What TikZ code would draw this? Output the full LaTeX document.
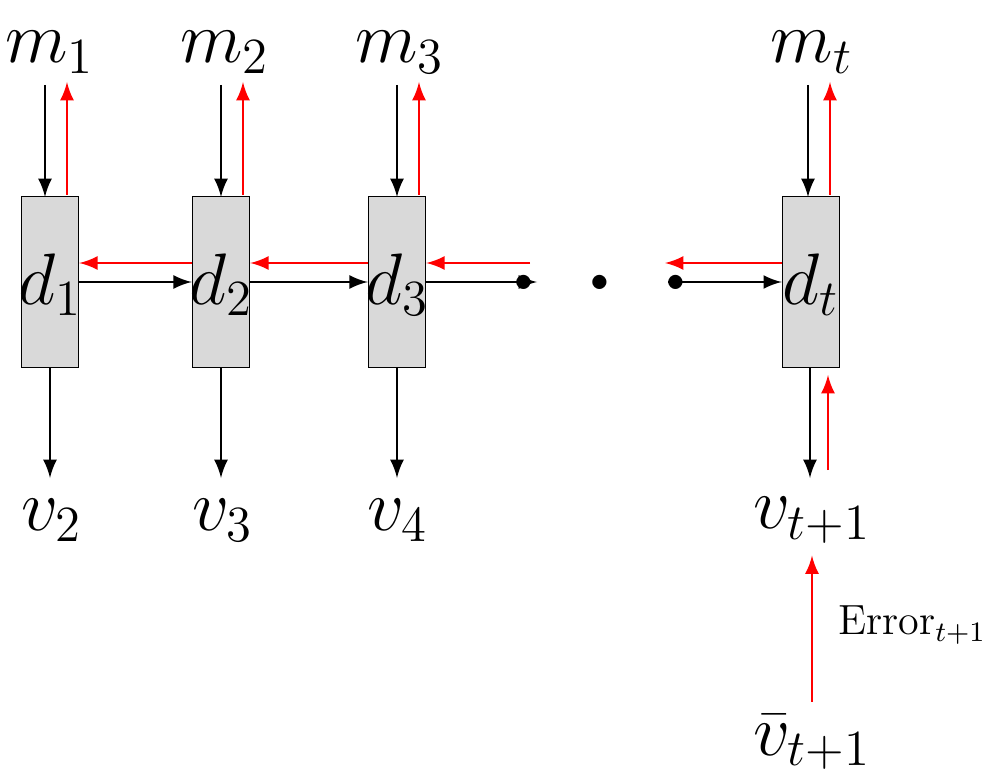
\documentclass[tikz,border=0pt]{standalone}
\usepackage{amsmath}
\usetikzlibrary{positioning}
\begin{document}
\begin{tikzpicture}[x=0.01cm,y=-0.01cm,
  cell/.style={draw,fill=gray!30,minimum width=0.57cm,minimum height=1.71cm,inner sep=0pt},
  lbl/.style={font=\fontsize{21}{23}\selectfont},
  fwd/.style={-latex,thick,black},
  bwd/.style={-latex,thick,red}]
  \useasboundingbox (0,0) rectangle (1000,779);
  % cells
  \foreach \x/\n in {50/1,221/2,397/3,811/t} {
    \node[cell] (d\n) at (\x,282) {};
    \node[lbl] at (\x,285) {$d_\n$};
  }
  % inputs and outputs
  \node[lbl] (m1) at (50,52) {$m_1$};
  \node[lbl] (m2) at (225,52) {$m_2$};
  \node[lbl] (m3) at (400,52) {$m_3$};
  \node[lbl] (mt) at (812,52) {$m_t$};
  \node[lbl] (v2) at (52,520) {$v_2$};
  \node[lbl] (v3) at (223,520) {$v_3$};
  \node[lbl] (v4) at (398,520) {$v_4$};
  \node[lbl] (vt) at (812,520) {$v_{t+1}$};
  \node[lbl] (vb) at (812,742) {$\bar{v}_{t+1}$};
  \node[font=\fontsize{12}{14}\selectfont,anchor=west] (err) at (826,625) {Error$_{t+1}$};
  \node[font=\fontsize{28}{30}\selectfont\bfseries] (dots) at (600,282) {.\hspace{0.45cm}.\hspace{0.45cm}.};
  % vertical connectors
  \foreach \n/\x in {1/45,2/221,3/397,t/808} {
    \draw[fwd] (\x,85) -- (\x,197);
    \draw[bwd] (\x+22,195) -- (\x+22,82);
  }
  \foreach \n/\x in {1/50,2/221,3/397,t/810}
    \draw[fwd] (\x,368) -- (\x,478);
  \draw[bwd] (828,470) -- (828,375);
  \draw[bwd] (vb.north) -- (vt.south);
  % horizontal connectors
  \draw[fwd] (d1.east|-0,282) -- (d2.west|-0,282);
  \draw[fwd] (d2.east|-0,282) -- (d3.west|-0,282);
  \draw[fwd] (d3.east|-0,282) -- (537,282);
  \draw[fwd] (668,282) -- (dt.west|-0,282);
  \draw[bwd] (d2.west|-0,263) -- (d1.east|-0,263);
  \draw[bwd] (d3.west|-0,263) -- (d2.east|-0,263);
  \draw[bwd] (530,263) -- (d3.east|-0,263);
  \draw[bwd] (dt.west|-0,263) -- (665,263);
\end{tikzpicture}
\end{document}
